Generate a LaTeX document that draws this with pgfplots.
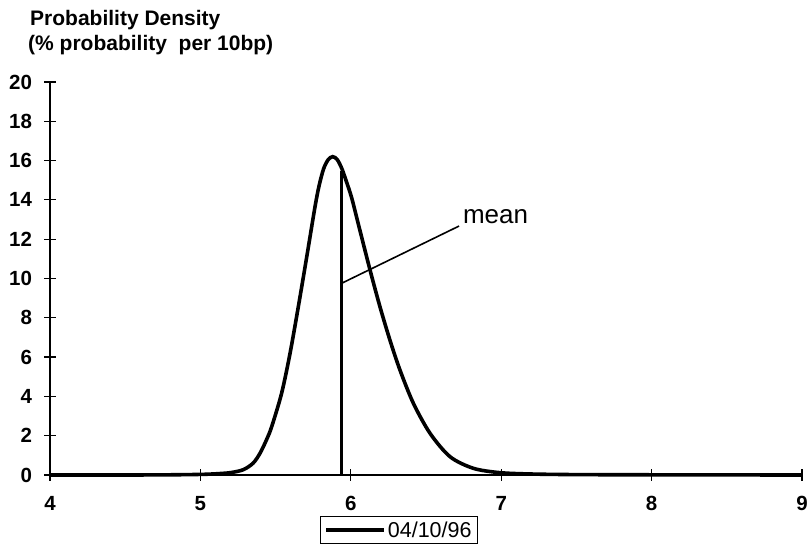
\documentclass[border=0pt]{standalone}
\usepackage{fontspec}
\setmainfont{Liberation Sans}
\usepackage{pgfplots}
\pgfplotsset{compat=1.18}
\begin{document}
\begin{tikzpicture}
\useasboundingbox (-50bp,-76bp) rectangle (761bp,475bp);
\begin{axis}[
  scale only axis,
  width=752bp, height=393bp,
  xmin=4, xmax=9, ymin=0, ymax=20,
  axis x line=bottom, axis y line=left,
  axis line style={-, line width=1.3bp},
  xtick={4,5,6,7,8,9},
  ytick={0,2,...,20},
  tick align=center,
  major tick length=11bp,
  tick style={line width=1.2bp, black},
  /pgf/number format/assume math mode=true,
  ticklabel style={font=\fontsize{20.5bp}{22bp}\selectfont\bfseries},
  yticklabel style={xshift=-9bp},
  xticklabel style={yshift=-12bp},
  legend style={at={(0.464,0)}, anchor=north, yshift=-41bp,
    draw=black, line width=1bp, inner xsep=4bp, inner ysep=3bp,
    font=\fontsize{21.5bp}{23bp}\selectfont},
  legend image code/.code={\draw[#1] (0bp,0bp) -- (58bp,0bp);},
  clip=false,
]
\addplot[black, line width=3.6bp, smooth, tension=0.5] coordinates {
(4.0,0) (4.5,0) (4.8,0.01) (5.0,0.03) (5.1,0.06) (5.2,0.12) (5.285,0.27)
(5.35,0.6) (5.396,1.1) (5.44,1.8) (5.474,2.46) (5.54,4.16) (5.596,6.19)
(5.651,8.56) (5.707,11.1) (5.762,13.65) (5.79,14.75) (5.82,15.6) (5.85,16.05) (5.88,16.2)
(5.91,16.05) (5.94,15.6) (5.97,14.95) (6.006,14.1) (6.06,12.47) (6.128,10.43) (6.194,8.56)
(6.26,6.87) (6.327,5.34) (6.416,3.65) (6.527,2.12) (6.66,0.93) (6.815,0.34)
(6.99,0.12) (7.2,0.05) (7.5,0.02) (8.0,0.01) (9.0,0)
};
\addlegendentry{04/10/96}
\addplot[black, line width=2.8bp, forget plot] coordinates {(5.94,0) (5.94,15.45)};
\addplot[black, line width=1.6bp, forget plot] coordinates {(5.94,9.76) (6.72,12.67)};
\node[anchor=west, inner sep=0pt, font=\fontsize{26bp}{28bp}\selectfont] at (axis cs:6.745,13.13) {mean};
\end{axis}
\node[anchor=base west, inner sep=0pt, font=\fontsize{21bp}{23bp}\selectfont\bfseries] at (-20bp,449.5bp) {Probability Density};
\node[anchor=base west, inner sep=0pt, font=\fontsize{21bp}{23bp}\selectfont\bfseries] at (-22bp,424bp) {(\% probability\ \ per 10bp)};
\end{tikzpicture}
\end{document}
